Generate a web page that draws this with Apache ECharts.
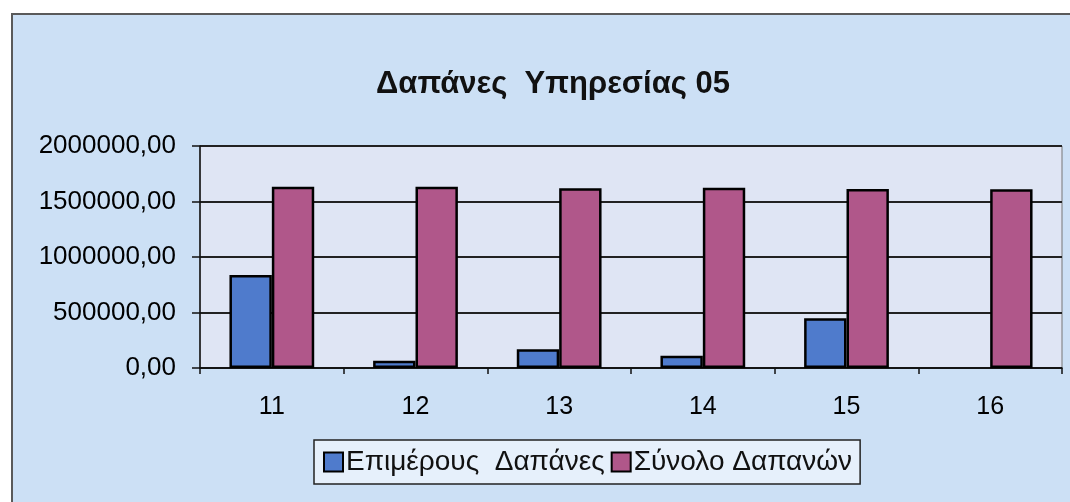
<!DOCTYPE html>
<html>
<head>
    <meta charset="utf-8" />
    <title>Δαπάνες Υπηρεσίας 05</title>
    <script src="https://cdn.jsdelivr.net/npm/echarts@6/dist/echarts.min.js"></script>
    <style>
        html, body { margin: 0; padding: 0; background: #fff; }
        #main { width: 1070px; height: 502px; }
    </style>
</head>
<body>
    <div id="main"></div>
    <script type="text/javascript">
        // κατηγορίες (άξονας x)
        const categories = ['11', '12', '13', '14', '15', '16'];
        // Επιμέρους Δαπάνες
        const partialCosts = [838000, 66000, 168000, 111000, 448000, null];
        // Σύνολο Δαπανών
        const totalCosts = [1633000, 1633000, 1620000, 1624000, 1613000, 1610000];
        const seriesNames = ['Επιμέρους  Δαπάνες', 'Σύνολο Δαπανών'];
        const yTicks = [0, 500000, 1000000, 1500000, 2000000];

        const chart = echarts.init(document.getElementById('main'));
        const font = '"Liberation Sans", Arial, sans-serif';

        const option = {
            backgroundColor: '#ffffff',
            animation: false,
            graphic: [{
                type: 'rect',
                z: -10,
                shape: { x: 12, y: 14, width: 1070, height: 500 },
                style: { fill: '#cce0f5', stroke: '#5a5a5a', lineWidth: 2 }
            }],
            title: {
                text: 'Δαπάνες  Υπηρεσίας 05',
                left: 548,
                top: 64,
                textAlign: 'center',
                textStyle: { fontFamily: font, fontSize: 31, fontWeight: 'bold', color: '#111' }
            },
            legend: {
                data: seriesNames,
                left: 314,
                top: 440,
                padding: [8, 8, 8, 9],
                itemWidth: 19,
                itemHeight: 19,
                itemGap: 6,
                icon: 'rect',
                borderColor: '#222',
                borderWidth: 1.5,
                backgroundColor: '#e6f0fb',
                textStyle: { fontFamily: font, fontSize: 28, color: '#111', padding: [0, 0, 0, -2] }
            },
            grid: {
                left: 200,
                right: 8,
                top: 146,
                bottom: 134,
                show: true,
                backgroundColor: '#dfe5f4',
                borderColor: '#777',
                borderWidth: 1
            },
            xAxis: {
                type: 'category',
                data: categories,
                axisLine: { lineStyle: { color: '#111', width: 1.5 } },
                axisTick: { show: true, length: 6, lineStyle: { color: '#111', width: 1.5 } },
                axisLabel: { fontFamily: font, fontSize: 25, color: '#000', margin: 27 }
            },
            yAxis: {
                type: 'value',
                min: 0,
                max: 2000000,
                interval: 500000,
                axisLine: { show: true, lineStyle: { color: '#111', width: 1.5 } },
                axisTick: { show: true, length: 8, lineStyle: { color: '#111', width: 1.5 } },
                splitLine: { lineStyle: { color: '#222', width: 1.8 } },
                axisLabel: {
                    fontFamily: font,
                    fontSize: 26,
                    color: '#000',
                    margin: 24,
                    formatter: function (v) {
                        return yTicks.indexOf(v) >= 0 ? v.toFixed(2).replace('.', ',') : '';
                    }
                }
            },
            series: [{
                name: seriesNames[0],
                type: 'bar',
                data: partialCosts,
                barGap: '0%',
                barCategoryGap: '41%',
                itemStyle: { color: '#4f7bcc', borderColor: '#000', borderWidth: 2.5 }
            }, {
                name: seriesNames[1],
                type: 'bar',
                data: totalCosts,
                itemStyle: { color: '#b0578a', borderColor: '#000', borderWidth: 2.5 }
            }]
        };
        chart.setOption(option);
    </script>
</body>
</html>
